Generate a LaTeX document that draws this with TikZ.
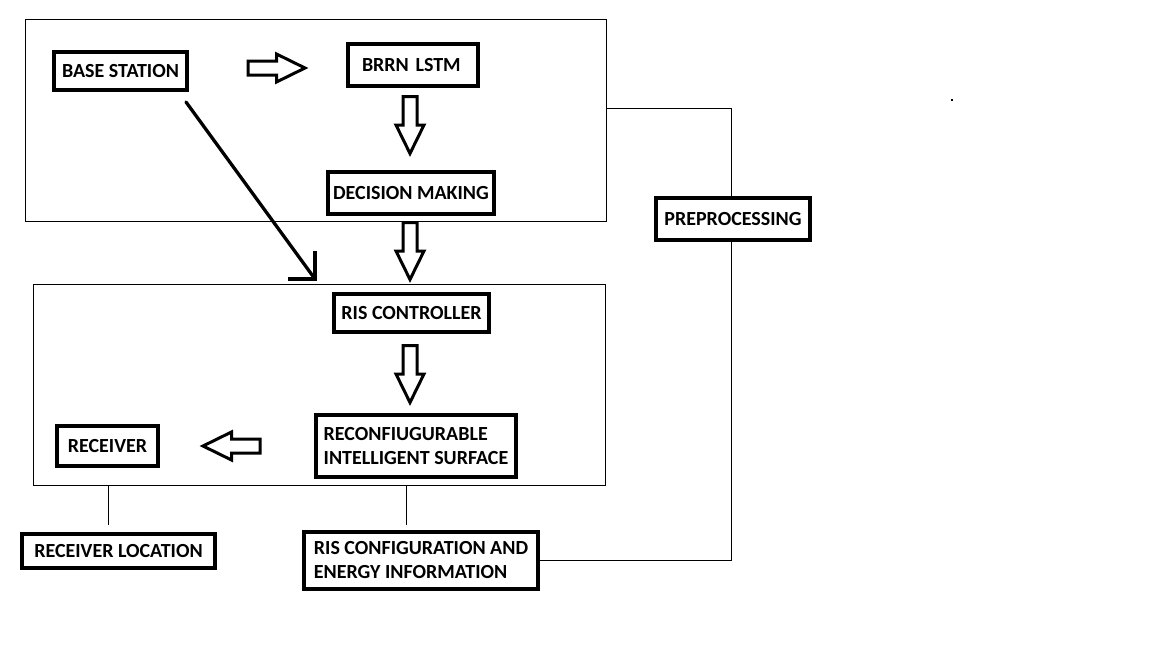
\documentclass[tikz,border=0pt]{standalone}
\usepackage{fontspec}
\setmainfont{Carlito}
\usetikzlibrary{calc}
\begin{document}
\begin{tikzpicture}[x=1pt,y=-1pt,
  box/.style={draw, fill=white, line width=4pt, inner sep=0pt, font=\fontsize{20}{24}\selectfont\bfseries, align=left},
  container/.style={draw, line width=1pt, inner sep=0pt},
  conn/.style={line width=1pt},
  blk/.style={draw, line width=3pt, line join=miter},
  pics/darrow/.style={code={\draw[blk] (-7,-28.5) -- (7,-28.5) -- (7,0) -- (14,0) -- (0,28.5) -- (-14,0) -- (-7,0) -- cycle;}},
  pics/rarrow/.style={code={\draw[blk] (-28.5,-7) -- (0,-7) -- (0,-14) -- (28.5,0) -- (0,14) -- (0,7) -- (-28.5,7) -- cycle;}},
  pics/larrow/.style={code={\draw[blk] (28.5,-7) -- (0,-7) -- (0,-14) -- (-28.5,0) -- (0,14) -- (0,7) -- (28.5,7) -- cycle;}},
]
\useasboundingbox (0,0) rectangle (1152,648);
\fill[white] (0,0) rectangle (1152,648);

% containers
\node[container, minimum width=581pt, minimum height=202pt] (topbox) at (315.5,120) {};
\node[container, minimum width=572pt, minimum height=201pt] (botbox) at (319,384.5) {};

% boxes
\node[box, minimum width=133pt, minimum height=38pt] (bs) at (120.5,71) {BASE STATION};
\node[box, minimum width=130pt, minimum height=42pt, text width=114pt] (brrn) at (413,65) {\hspace*{6pt}BRRN LSTM};
\node[box, minimum width=166pt, minimum height=42pt] (dm) at (411,193) {DECISION MAKING};
\node[box, minimum width=155pt, minimum height=38pt] (risc) at (411.5,313) {RIS CONTROLLER};
\node[box, minimum width=200pt, minimum height=62pt] (ris) at (416,446) {RECONFIUGURABLE\\INTELLIGENT SURFACE};
\node[box, minimum width=101pt, minimum height=40pt] (rx) at (107.5,446) {RECEIVER};
\node[box, minimum width=193pt, minimum height=34pt] (rxloc) at (118.5,551) {RECEIVER LOCATION};
\node[box, minimum width=234pt, minimum height=57pt] (riscfg) at (421,560.5) {RIS CONFIGURATION AND\\ENERGY INFORMATION};
\node[box, minimum width=154pt, minimum height=42pt] (pre) at (733,219) {PREPROCESSING};

% block arrows
\pic at (276.5,68) {rarrow};
\pic at (410,125) {darrow};
\pic at (410,251) {darrow};
\pic at (410,374) {darrow};
\pic at (231.5,446) {larrow};

% diagonal arrow
\coordinate (dstart) at ($(bs.south east)+(-3,10)$);
\coordinate (dtip) at (315,279);
\draw[line width=3.3pt, line cap=round] (dstart) -- (dtip);
\draw[line width=3.3pt, line join=miter] ($(dtip)+(0,-28)$) -- (dtip) -- ($(dtip)+(-27,0)$);

% thin connectors
\coordinate (c1) at (731,108);
\draw[conn] (c1 -| topbox.east) -- (c1) -- (c1 |- pre.north);
\draw[conn] (pre.south -| c1) -- (c1 |- riscfg.east) -- (riscfg.east);
\coordinate (l1) at (108,525);
\draw[conn] (l1 |- botbox.south) -- (l1);
\coordinate (l2) at (406,525);
\draw[conn] (l2 |- botbox.south) -- (l2);

% stray dot
\fill (951,99) rectangle (953,101);
\end{tikzpicture}
\end{document}
